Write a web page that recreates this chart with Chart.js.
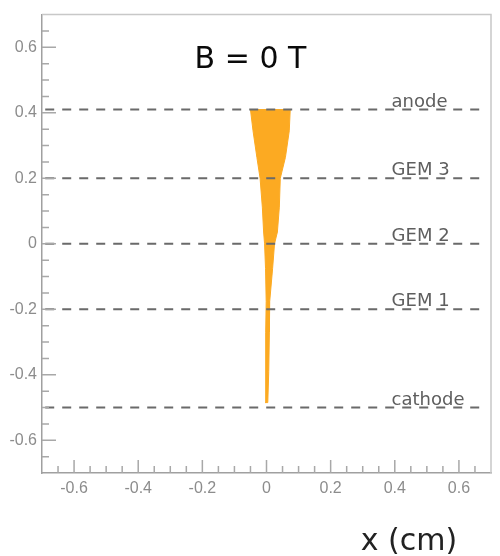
<!DOCTYPE html>
<html>
<head>
<meta charset="utf-8">
<script src="https://cdn.jsdelivr.net/npm/chart.js@4/dist/chart.umd.min.js"></script>
<style>
  html, body { margin: 0; padding: 0; background: #fff; }
  #wrap { width: 500px; height: 556px; }
</style>
</head>
<body>
<div id="wrap"><canvas id="driftChart" width="500" height="556"></canvas></div>
<script>
// electrode planes (y in cm)
const levelNames = ['anode', 'GEM 3', 'GEM 2', 'GEM 1', 'cathode'];
const levelY = [0.41, 0.2, 0, -0.2, -0.5];

// electron cloud outline: y positions with left / right x edges (cm)
const cloudY = [0.41, 0.345, 0.264, 0.2, 0.112, 0.036, 0, -0.076, -0.176, -0.27, -0.39, -0.485];
const cloudLeft = [-0.05, -0.042, -0.03, -0.02, -0.013, -0.009, -0.006, -0.003, -0.001, -0.003, -0.002, -0.004];
const cloudRight = [0.074, 0.071, 0.059, 0.043, 0.04, 0.034, 0.025, 0.019, 0.01, 0.009, 0.007, 0.004];

// axis range and labelled ticks
const axisMin = -0.7;
const axisMax = 0.7;
const tickValues = [-0.6, -0.4, -0.2, 0, 0.2, 0.4, 0.6];
const minorStep = 0.05;

const fieldLabel = 'B = 0 T';
const xTitle = 'x (cm)';

document.addEventListener('DOMContentLoaded', function() {
    const ctx = document.getElementById('driftChart').getContext('2d');

    // closed polygon: right edge going down, left edge coming back up
    const cloudPoints = [];
    for (let i = 0; i < cloudY.length; i++) {
        cloudPoints.push({x: cloudRight[i], y: cloudY[i]});
    }
    for (let i = cloudY.length - 1; i >= 0; i--) {
        cloudPoints.push({x: cloudLeft[i], y: cloudY[i]});
    }
    cloudPoints.push({x: cloudRight[0], y: cloudY[0]});

    const datasets = levelY.map(function(y, i) {
        return {
            label: levelNames[i],
            data: [{x: -0.69, y: y}, {x: 0.68, y: y}],
            borderColor: '#6a6a6a',
            borderWidth: 2,
            borderDash: [9, 8],
            pointRadius: 0,
            fill: false,
            order: 0
        };
    });
    datasets.push({
        label: 'cloud',
        data: cloudPoints,
        borderColor: '#fcaa22',
        backgroundColor: '#fcaa22',
        borderWidth: 1,
        pointRadius: 0,
        tension: 0,
        fill: 'shape',
        order: 1
    });

    function tickLabel(v) {
        if (Math.abs(v) < 1e-9) return '0';
        return v.toFixed(1);
    }

    function setTicks(scale) {
        scale.ticks = tickValues.map(function(v) { return {value: v}; });
    }

    const tickFont = {family: '"Liberation Sans", Arial, sans-serif', size: 16};

    // inward tick marks, frame and text annotations
    const decorations = {
        id: 'decorations',
        afterDraw(chart) {
            const c = chart.ctx;
            const xs = chart.scales.x;
            const ys = chart.scales.y;
            const area = chart.chartArea;

            c.save();
            c.strokeStyle = '#c8c8c8';
            c.lineWidth = 1.5;
            c.beginPath();
            c.moveTo(area.left, area.top);
            c.lineTo(area.right, area.top);
            c.lineTo(area.right, area.bottom);
            c.stroke();

            c.strokeStyle = '#a8a8a8';
            c.lineWidth = 1.5;
            const n = Math.round((axisMax - axisMin) / minorStep);
            for (let k = 1; k < n; k++) {
                const v = axisMin + k * minorStep;
                const major = tickValues.some(function(t) { return Math.abs(t - v) < 1e-6; });
                const px = xs.getPixelForValue(v);
                const py = ys.getPixelForValue(v);
                c.beginPath();
                c.moveTo(px, area.bottom);
                c.lineTo(px, area.bottom - (major ? 13 : 7));
                c.moveTo(area.left, py);
                c.lineTo(area.left + (major ? 14 : 7), py);
                c.stroke();
            }

            c.fillStyle = '#5e5e5e';
            c.font = '18px "DejaVu Sans"';
            c.textAlign = 'left';
            c.textBaseline = 'alphabetic';
            levelNames.forEach(function(name, i) {
                const py = ys.getPixelForValue(levelY[i]);
                c.fillText(name, xs.getPixelForValue(0.39), py - 3);
            });

            c.fillStyle = '#0a0a0a';
            c.font = '30px "DejaVu Sans"';
            c.textAlign = 'center';
            c.textBaseline = 'middle';
            c.fillText(fieldLabel, xs.getPixelForValue(-0.05), ys.getPixelForValue(0.56));

            c.fillStyle = '#222';
            c.font = '30px "DejaVu Sans"';
            c.textAlign = 'center';
            c.textBaseline = 'alphabetic';
            c.fillText(xTitle, 409, 550);
            c.restore();
        }
    };

    new Chart(ctx, {
        type: 'line',
        data: {datasets: datasets},
        options: {
            responsive: false,
            animation: false,
            events: [],
            layout: {
                padding: {left: 0, top: 11, right: 9, bottom: 0}
            },
            plugins: {
                legend: {display: false},
                tooltip: {enabled: false}
            },
            scales: {
                x: {
                    type: 'linear',
                    min: axisMin,
                    max: axisMax,
                    afterBuildTicks: setTicks,
                    afterFit: function(scale) { scale.height = 83; },
                    border: {color: '#a0a0a0', width: 1.5},
                    grid: {display: false, drawTicks: false},
                    ticks: {
                        padding: 6,
                        color: '#8c8c8c',
                        font: tickFont,
                        maxRotation: 0,
                        autoSkip: false,
                        callback: tickLabel
                    }
                },
                y: {
                    type: 'linear',
                    min: axisMin,
                    max: axisMax,
                    afterBuildTicks: setTicks,
                    afterFit: function(scale) { scale.width = 42; },
                    border: {color: '#a0a0a0', width: 1.5},
                    grid: {display: false, drawTicks: false},
                    ticks: {
                        padding: 5,
                        color: '#8c8c8c',
                        font: tickFont,
                        autoSkip: false,
                        callback: tickLabel
                    }
                }
            }
        },
        plugins: [decorations]
    });
});
</script>
</body>
</html>
